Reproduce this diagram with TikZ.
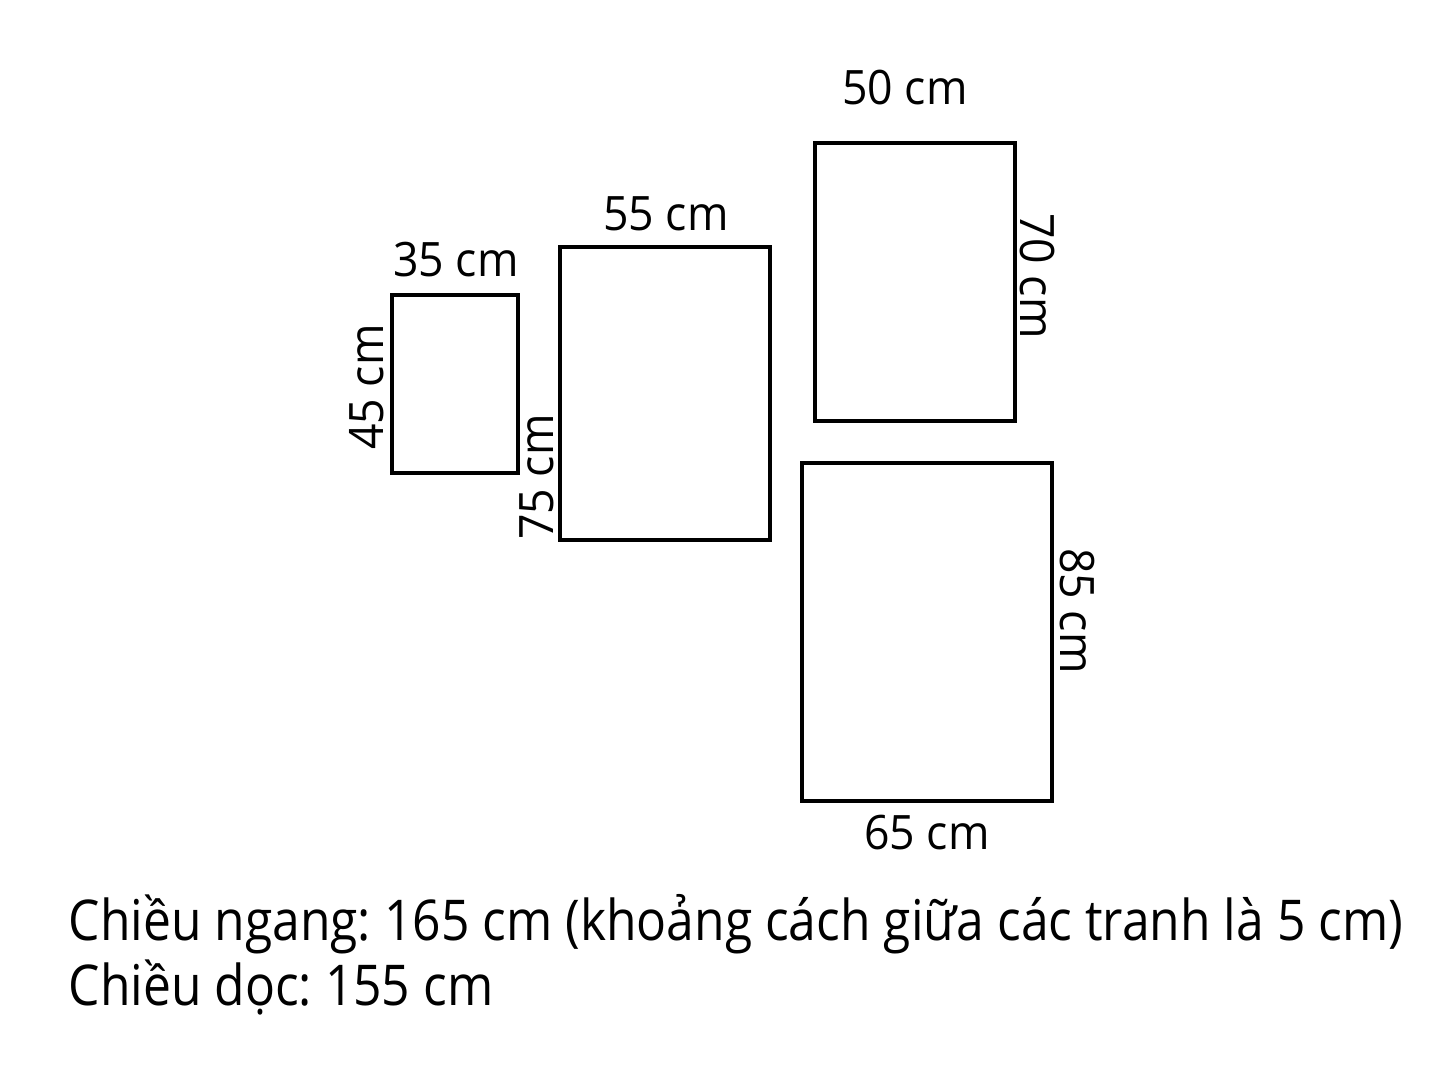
\documentclass[tikz,border=0pt]{standalone}
\usepackage{fontspec}
\setmainfont{Open Sans}
\newfontfamily\labelfont[FakeStretch=0.94]{Open Sans}
\newfontfamily\notefont[FakeStretch=0.885]{Open Sans}
\usetikzlibrary{positioning}
\frenchspacing

\begin{document}
\begin{tikzpicture}[frame_box/.style={draw,line width=0.035cm,inner sep=0pt,outer sep=0pt},
	size_label/.style={font=\labelfont\fontsize{13.5}{15}\selectfont,inner sep=0pt},
	note_line/.style={font=\notefont\fontsize{16}{19}\selectfont,inner sep=0pt,anchor=base west}]
		
		\useasboundingbox (0,0) rectangle (14.45,10.84);
		
		\node[frame_box,minimum width=1.26cm,minimum height=1.78cm] (p35) at (4.55,7.00) {};
		\node[frame_box,minimum width=2.10cm,minimum height=2.93cm] (p55) at (6.65,6.905) {};
		\node[frame_box,minimum width=2.00cm,minimum height=2.78cm] (p50) at (9.15,8.02) {};
		\node[frame_box,minimum width=2.50cm,minimum height=3.38cm] (p65) at (9.27,4.52) {};
		
		\node[size_label] (w35) at (4.56,8.24) {35 cm};
		\node[size_label,rotate=90] (h45) at (3.67,6.97) {45 cm};
		\node[size_label] (w55) at (6.66,8.70) {55 cm};
		\node[size_label,rotate=90] (h75) at (5.37,6.07) {75 cm};
		\node[size_label] (w50) at (9.05,9.96) {50 cm};
		\node[size_label,rotate=-90] (h70) at (10.37,8.08) {70 cm};
		\node[size_label,rotate=-90] (h85) at (10.77,4.73) {85 cm};
		\node[size_label] (w65) at (9.27,2.51) {65 cm};
		
		\node[note_line] (width_note) at (0.68,1.44) {Chiều ngang: 165 cm (khoảng cách giữa các tranh là 5 cm)};
		\node[note_line] (height_note) at (0.68,0.79) {Chiều dọc: 155 cm};
		\end{tikzpicture}
\end{document}
